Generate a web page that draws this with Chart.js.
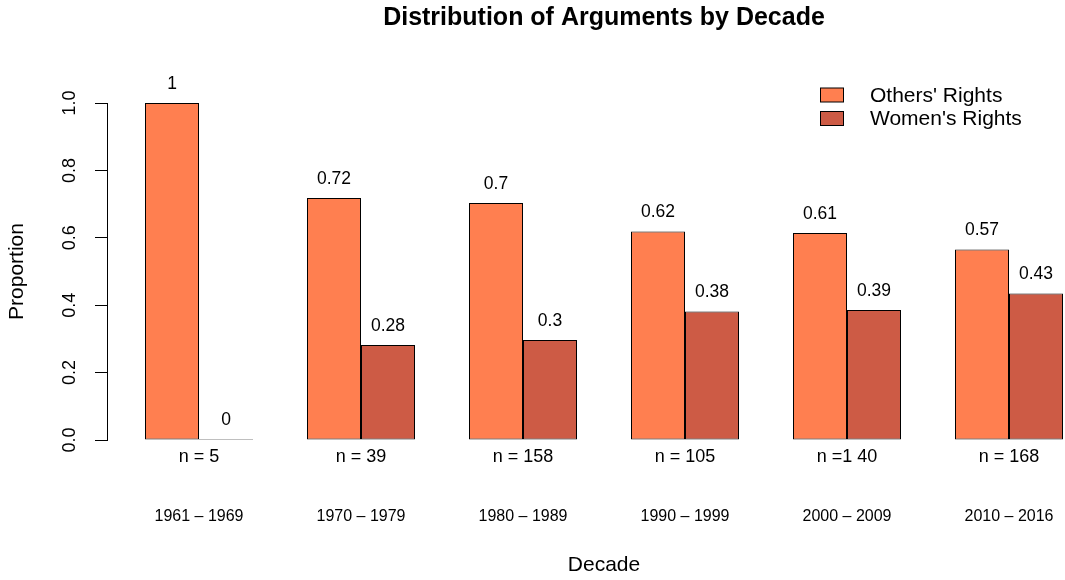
<!DOCTYPE html>
<html lang="en">
<head>
<meta charset="utf-8">
<title>Distribution of Arguments by Decade</title>
<script src="https://cdn.jsdelivr.net/npm/chart.js"></script>
<style>
  html, body { margin: 0; padding: 0; background: #fff; }
</style>
</head>
<body>
<canvas id="myChart" width="1065" height="580"></canvas>

<script>
// data
const decades = ['1961 – 1969', '1970 – 1979', '1980 – 1989', '1990 – 1999', '2000 – 2009', '2010 – 2016'];
const nLabels = ['n = 5', 'n = 39', 'n = 158', 'n = 105', 'n =1 40', 'n = 168'];
const othersRights = [1, 0.718, 0.703, 0.619, 0.614, 0.5655];
const womensRights = [0, 0.282, 0.297, 0.381, 0.386, 0.4345];
const seriesNames = ["Others' Rights", "Women's Rights"];
const seriesColors = ['#FF7F50', '#CD5B45'];
const yTicks = [0, 0.2, 0.4, 0.6, 0.8, 1.0];

const FONT = "'Liberation Sans', Arial, Helvetica, sans-serif";
Chart.defaults.font.family = FONT;
Chart.defaults.color = '#000';

function label(v) {
    return String(Math.round(v * 100) / 100);
}

// text that R puts around the plot: title, bar values, decades, legend
const extras = {
    id: 'extras',
    afterDraw(chart) {
        const ctx = chart.ctx;
        const xs = chart.scales.x;
        const mid = xs.getPixelForValue((decades.length - 1) / 2);
        ctx.save();
        ctx.fillStyle = '#000';
        ctx.textAlign = 'center';
        ctx.textBaseline = 'middle';

        ctx.font = 'bold 25px ' + FONT;
        ctx.fillText('Distribution of Arguments by Decade', mid, 18);

        // values above the bars
        ctx.font = '17.5px ' + FONT;
        chart.data.datasets.forEach((ds, i) => {
            chart.getDatasetMeta(i).data.forEach((bar, j) => {
                ctx.fillText(label(ds.data[j].y), bar.x, bar.y - 19);
            });
        });

        ctx.font = '16px ' + FONT;
        decades.forEach((d, i) => {
            ctx.fillText(d, xs.getPixelForValue(i), 517);
        });

        ctx.font = '21px ' + FONT;
        ctx.fillText('Decade', mid, 565);

        // legend
        ctx.textAlign = 'left';
        seriesNames.forEach((name, i) => {
            const y = 95 + i * 23.5;
            ctx.fillStyle = seriesColors[i];
            ctx.fillRect(820.5, y - 7, 23, 14);
            ctx.strokeStyle = '#000';
            ctx.lineWidth = 1;
            ctx.strokeRect(820.5, y - 7, 23, 14);
            ctx.fillStyle = '#000';
            ctx.fillText(name, 870, y + 1);
        });
        ctx.restore();
    }
};

const ctx = document.getElementById('myChart');

new Chart(ctx, {
    type: 'bar',
    data: {
        datasets: [othersRights, womensRights].map((vals, i) => ({
            label: seriesNames[i],
            data: vals.map((v, j) => ({ x: j, y: v })),
            backgroundColor: seriesColors[i],
            borderColor: '#000',
            borderWidth: 1,
            borderSkipped: false,
            minBarLength: 1,
            clip: false,
            categoryPercentage: 2 / 3,
            barPercentage: 1
        }))
    },
    options: {
        responsive: false,
        animation: false,
        events: [],
        layout: { padding: { top: 103, left: 0, right: 0, bottom: 0 } },
        plugins: {
            legend: { display: false },
            tooltip: { enabled: false }
        },
        scales: {
            x: {
                type: 'linear',
                offset: false,
                min: -92 / 162,
                max: -92 / 162 + 958 / 162,
                afterBuildTicks: s => { s.ticks = nLabels.map((t, i) => ({ value: i })); },
                afterFit: s => { s.height = 140; },
                grid: { display: false, drawTicks: false },
                border: { display: false },
                ticks: {
                    autoSkip: false,
                    maxRotation: 0,
                    padding: 6,
                    font: { size: 18 },
                    callback: (v) => nLabels[v]
                }
            },
            y: {
                min: 0,
                max: 1,
                afterBuildTicks: s => { s.ticks = yTicks.map(v => ({ value: v })); },
                afterFit: s => { s.width = 107; },
                grid: { drawOnChartArea: false, color: '#000', tickLength: 12 },
                border: { display: true, color: '#000', width: 1 },
                ticks: {
                    autoSkip: false,
                    minRotation: 90,
                    maxRotation: 90,
                    crossAlign: 'center',
                    padding: 12,
                    font: { size: 18 },
                    callback: v => v.toFixed(1)
                },
                title: {
                    display: true,
                    text: 'Proportion',
                    font: { size: 21 },
                    padding: { top: 5, bottom: 0 }
                }
            }
        }
    },
    plugins: [extras]
});
</script>
</body>
</html>
